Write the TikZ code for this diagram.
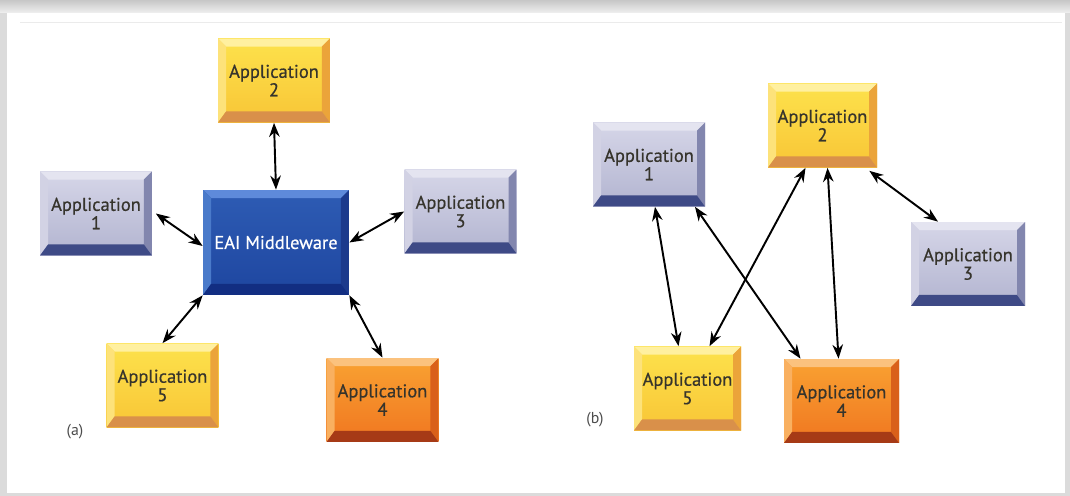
\documentclass[tikz,border=0pt]{standalone}
\usepackage{fontspec}
\setmainfont{PT Sans}
\newfontfamily\keyfont{PT Sans}[FakeBold=0.6]
\usetikzlibrary{arrows.meta,calc}

\definecolor{graytop}{HTML}{E4E4F0}
\definecolor{grayleft}{HTML}{D2D2E4}
\definecolor{grayright}{HTML}{8286AE}
\definecolor{graybot}{HTML}{3E4A86}
\definecolor{grayfacea}{HTML}{D6D6E8}
\definecolor{grayfaceb}{HTML}{B2B4D0}
\definecolor{yellowtop}{HTML}{FFF0A0}
\definecolor{yellowleft}{HTML}{FDE27A}
\definecolor{yellowright}{HTML}{EBA43A}
\definecolor{yellowbot}{HTML}{D9904A}
\definecolor{yellowfacea}{HTML}{FDE24C}
\definecolor{yellowfaceb}{HTML}{F8C536}
\definecolor{orangetop}{HTML}{FBC27E}
\definecolor{orangeleft}{HTML}{F9B060}
\definecolor{orangeright}{HTML}{D9601A}
\definecolor{orangebot}{HTML}{A63A16}
\definecolor{orangefacea}{HTML}{F9A232}
\definecolor{orangefaceb}{HTML}{F07620}
\definecolor{bluetop}{HTML}{5E8ADA}
\definecolor{blueleft}{HTML}{4A7ACA}
\definecolor{blueright}{HTML}{1C3A8C}
\definecolor{bluebot}{HTML}{122E82}
\definecolor{bluefacea}{HTML}{2E5CB4}
\definecolor{bluefaceb}{HTML}{1E46A0}
\definecolor{apptext}{HTML}{36342C}

% bevelled edges of a key-like box, drawn inside the node
\newcommand\bevels[1]{%
\fill[#1top] (path picture bounding box.north west) -- (path picture bounding box.north east)
  -- ($(path picture bounding box.north east)+(-0.16cm,-0.16cm)$) -- ($(path picture bounding box.north west)+(0.16cm,-0.16cm)$) -- cycle;
\fill[#1left] (path picture bounding box.north west) -- ($(path picture bounding box.north west)+(0.16cm,-0.16cm)$)
  -- ($(path picture bounding box.south west)+(0.16cm,0.22cm)$) -- (path picture bounding box.south west) -- cycle;
\fill[#1right] (path picture bounding box.north east) -- (path picture bounding box.south east)
  -- ($(path picture bounding box.south east)+(-0.16cm,0.22cm)$) -- ($(path picture bounding box.north east)+(-0.16cm,-0.16cm)$) -- cycle;
\fill[#1bot] (path picture bounding box.south west) -- (path picture bounding box.south east)
  -- ($(path picture bounding box.south east)+(-0.16cm,0.22cm)$) -- ($(path picture bounding box.south west)+(0.16cm,0.22cm)$) -- cycle;
}

\tikzset{
  app/.style={minimum width=2.24cm,minimum height=1.68cm,inner sep=0pt,align=center,
    font=\keyfont\fontsize{10.5}{10.5}\selectfont,text=apptext,
    top color=#1facea,bottom color=#1faceb,path picture={\bevels{#1}}},
  link/.style={<->,line width=1.1pt,>={Stealth[length=8pt,width=6pt]}},
  tag/.style={font=\fontsize{9}{10}\selectfont,text=black!70}
}

\begin{document}
\begin{tikzpicture}[x=0.02cm,y=-0.02cm]
% frame
\fill[black!14] (0,0) rectangle (1070,496);
\shade[top color=black!22,bottom color=black!6] (0,0) rectangle (1070,13);
\fill[white] (7,13) rectangle (1065,493);
\draw[black!8] (20,22) -- (1062,22);

% (a) hub
\node[app=yellow] (a2) at (274,80.5) {Application\\2};
\node[app=gray] (a1) at (96,213.5) {Application\\1};
\node[app=blue,minimum width=2.92cm,minimum height=2.1cm,text=white] (eai) at (276,242.5) {EAI Middleware};
\node[app=gray] (a3) at (460.5,211.5) {Application\\3};
\node[app=yellow] (a5) at (162.5,385.5) {Application\\5};
\node[app=orange] (a4) at (382.5,400) {Application\\4};
\node[tag] (la) at (75,432) {(a)};

\draw[link] (a2.south) -- (eai.north);
\draw[link] ([xshift=2pt]a1.east) -- ([yshift=-2pt]eai.west);
\draw[link] (eai.east) -- (a3.west);
\draw[link] (eai.south west) -- (a5.north);
\draw[link] (eai.south east) -- (a4.north);

% (b) point to point
\node[app=gray] (b1) at (649,164.5) {Application\\1};
\node[app=yellow,minimum width=2.18cm] (b2) at (822.5,125.5) {Application\\2};
\node[app=gray,minimum width=2.28cm] (b3) at (968,264) {Application\\3};
\node[app=yellow,minimum width=2.14cm] (b5) at (687.5,388.5) {Application\\5};
\node[app=orange,minimum width=2.3cm] (b4) at (841.5,401) {Application\\4};
\node[tag] (lb) at (595,420) {(b)};

\draw[link] ([xshift=0.12cm]b1.south) -- ([xshift=-0.18cm]b5.north);
\draw[link] ([xshift=0.92cm]b1.south) -- ([xshift=-0.82cm]b4.north);
\draw[link] ([xshift=0.44cm]b5.north) -- ([xshift=-0.34cm]b2.south);
\draw[link] ([xshift=0.1cm]b2.south) -- ([xshift=-0.06cm]b4.north);
\draw[link] ([xshift=-0.16cm,yshift=-0.06cm]b2.south east) -- ([xshift=-0.6cm]b3.north);
\end{tikzpicture}
\end{document}
